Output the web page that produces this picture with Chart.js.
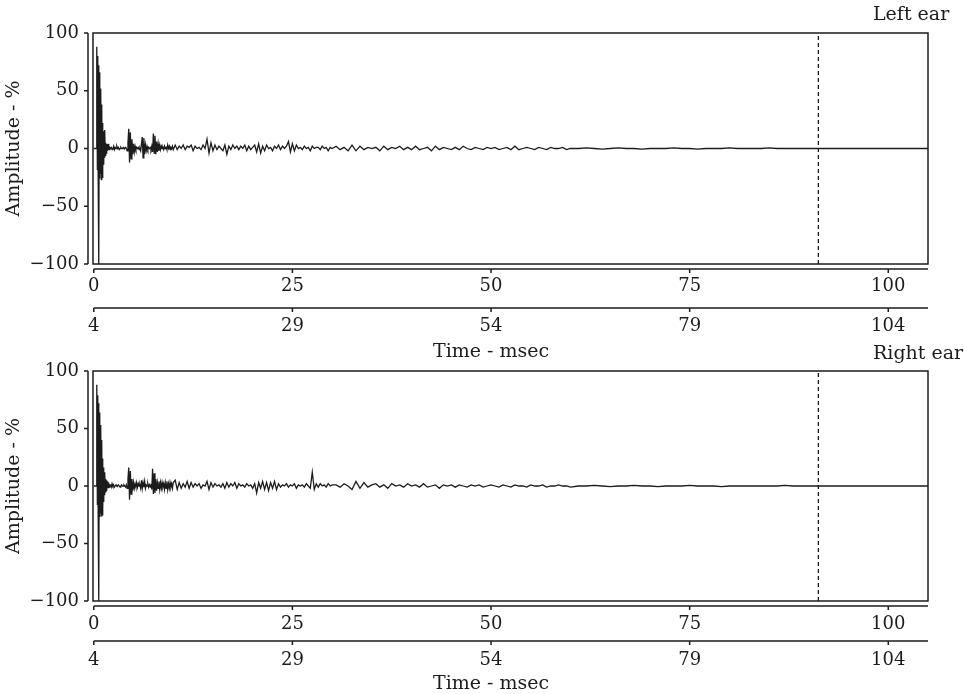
<!DOCTYPE html>
<html>
<head>
<meta charset="utf-8">
<script src="https://cdn.jsdelivr.net/npm/chart.js@4.4.1/dist/chart.umd.min.js"></script>
<style>
  html, body { margin: 0; padding: 0; background: #fff; }
  #wrap { position: relative; width: 964px; height: 694px; overflow: hidden; }
  canvas { position: absolute; left: 0; }
  #leftCanvas { top: 0; }
  #rightCanvas { top: 338px; }
</style>
</head>
<body>
<div id="wrap">
  <canvas id="leftCanvas" width="964" height="370"></canvas>
  <canvas id="rightCanvas" width="964" height="356"></canvas>
</div>
<script>
// sample times (msec)
const timeMs = [
  0, 0.05, 0.1, 0.15, 0.2, 0.25, 0.3, 0.35, 0.4, 0.45,
  0.5, 0.55, 0.6, 0.65, 0.7, 0.75, 0.8, 0.85, 0.9, 0.95,
  1, 1.05, 1.1, 1.15, 1.2, 1.25, 1.3, 1.35, 1.4, 1.45,
  1.5, 1.55, 1.6, 1.65, 1.7, 1.75, 1.8, 1.85, 1.9, 1.95,
  2,
  2.1, 2.2, 2.3, 2.4, 2.5, 2.6, 2.7, 2.8, 2.9, 3,
  3.1, 3.2, 3.3, 3.4, 3.5, 3.6, 3.7, 3.8, 3.9, 4,
  4.1, 4.2, 4.3, 4.4, 4.5, 4.6, 4.7, 4.8, 4.9, 5,
  5.1, 5.2, 5.3, 5.4, 5.5, 5.6, 5.7, 5.8, 5.9, 6,
  6.1, 6.2, 6.3, 6.4, 6.5, 6.6, 6.7, 6.8, 6.9, 7,
  7.1, 7.2, 7.3, 7.4, 7.5, 7.6, 7.7, 7.8, 7.9, 8,
  8.1, 8.2, 8.3, 8.4, 8.5, 8.6, 8.7, 8.8, 8.9, 9,
  9.1, 9.2, 9.3, 9.4, 9.5, 9.6, 9.7, 9.8, 9.9, 10,
  10.25, 10.5, 10.75, 11, 11.25, 11.5, 11.75, 12,
  12.25, 12.5, 12.75, 13, 13.25, 13.5, 13.75, 14,
  14.25, 14.5, 14.75, 15, 15.25, 15.5, 15.75, 16,
  16.25, 16.5, 16.75, 17, 17.25, 17.5, 17.75, 18,
  18.25, 18.5, 18.75, 19, 19.25, 19.5, 19.75, 20,
  20.25, 20.5, 20.75, 21, 21.25, 21.5, 21.75, 22,
  22.25, 22.5, 22.75, 23, 23.25, 23.5, 23.75, 24,
  24.25, 24.5, 24.75, 25, 25.25, 25.5, 25.75, 26,
  26.25, 26.5, 26.75, 27, 27.25, 27.5, 27.75, 28,
  28.25, 28.5, 28.75, 29, 29.25, 29.5, 29.75, 30,
  30.5, 31, 31.5, 32, 32.5, 33, 33.5, 34, 34.5, 35,
  35.5, 36, 36.5, 37, 37.5, 38, 38.5, 39, 39.5, 40,
  40.5, 41, 41.5, 42, 42.5, 43, 43.5, 44, 44.5, 45,
  45.5, 46, 46.5, 47, 47.5, 48, 48.5, 49, 49.5, 50,
  50.5, 51, 51.5, 52, 52.5, 53, 53.5, 54, 54.5, 55,
  55.5, 56, 56.5, 57, 57.5, 58, 58.5, 59, 59.5, 60,
  61, 62, 63, 64, 65, 66, 67, 68, 69, 70,
  71, 72, 73, 74, 75, 76, 77, 78, 79, 80,
  81, 82, 83, 84, 85, 86, 87, 88, 89, 90,
  91, 92, 93, 94, 95, 96, 97, 98, 99, 100,
  101, 102, 103, 104, 105
];

// amplitude in %, left ear
const leftEar = [
  0, 0, 0, 0, 0, 0, 0, 2, 88, -18,
  80, -24, 72, -100, 66, -26, 52, -22, 50, -27,
  38, -25, 22, -18, 15, -14, 12, -8, 16, -6,
  5, -4, 4, -3, 3, -2, 4, -1, 2, -1,
  1,
  0, 1, -1, 0, 2, -1, 1, 0, 2, 0,
  1, -1, 0, 1, 0, 0, 1, 0, 0, 1,
  0, -2, 5, 17, -12, 14, -9, 8, -5, 4,
  -3, 2, -1, 1, 0, 1, -1, 0, -2, 4,
  10, -8, 9, -5, 3, -2, 2, -1, 1, 0,
  1, -1, 2, -3, 13, -4, 11, -5, 6, -3,
  4, -2, 3, -1, 2, 0, 1, -1, 2, 0,
  1, -1, 3, 0, 2, -1, 1, 0, 2, -1,
  3, -1, 2, 0, 3, -1, 2, 1,
  3, -2, 2, 0, 1, -1, 3, 0,
  8, -4, 5, -2, 3, -1, 2, 0,
  -2, 3, -5, 2, -1, 3, 0, 2,
  -1, 2, 0, 3, -2, 2, -1, 1,
  3, -3, 4, -4, 2, -2, 3, 0,
  1, -2, 2, 0, 3, -1, 2, 0,
  2, 6, -3, 4, -2, 3, 0, 1,
  -1, 2, 0, 1, -2, 2, 0, 1,
  1, -1, 2, 0, 1, -2, 1, 0,
  2, -1, 1, -2, 3, -2, 2, -1, 1, 0,
  1, -2, 2, -1, 1, 0, 2, -1, 1, -1,
  2, -1, 0, 1, -2, 2, -1, 1, 0, -1,
  1, -1, 2, 0, -1, 1, 0, -1, 1, 0,
  1, -1, 0, 1, -1, 2, -1, 0, 1, 0,
  -1, 1, 0, -1, 1, 0, 0, 1, -1, 0,
  0, 0.5, 0, -0.5, 0, 0.5, 0, 0, -0.5, 0,
  0, 0, 0.5, 0, 0, -0.5, 0, 0, 0, 0.5,
  0, 0, 0, 0, 0.5, 0, 0, 0, 0, 0,
  0, 0, 0, 0, 0, 0, 0, 0, 0, 0,
  0, 0, 0, 0, 0
];

// amplitude in %, right ear
const rightEar = [
  0, 0, 0, 0, 0, 0, 0, 2, 88, -16,
  79, -24, 72, -100, 64, -27, 53, -24, 48, -26,
  40, -25, 24, -20, 16, -14, 10, -8, 12, -5,
  6, -4, 5, -3, 4, -2, 3, -2, 2, -1,
  1,
  1, -1, 2, 0, 1, -1, 0, 1, 0, 0,
  1, 0, -1, 0, 1, 0, 0, 1, 0, -1,
  1, -2, 6, 16, -12, 13, -7, 6, -4, 3,
  -2, 2, -1, 3, -1, 2, 0, 1, -2, 5,
  -2, 3, -1, 4, -2, 1, 0, 2, -1, 1,
  -1, 2, -3, 15, -7, 11, -6, 6, -4, 3,
  -2, 4, -3, 3, -2, 3, -1, 2, -3, 3,
  -2, 4, -3, 2, -2, 3, -1, 2, -2, 3,
  5, -3, 3, -2, 2, -1, 4, -2,
  3, -1, 2, 0, 2, -2, 1, 0,
  4, -3, 3, -1, 2, 0, 1, -1,
  2, -2, 3, -1, 2, 0, 3, -2,
  2, 0, 1, -1, 2, 0, 1, -2,
  2, -6, 3, -2, 4, -3, 3, -4,
  3, -2, 4, -3, 2, -1, 1, 0,
  2, -1, 1, 0, 2, -2, 1, 0,
  1, -1, 2, 0, -2, 12, -3, 2,
  -1, 2, 0, 1, -1, 2, 0, 1,
  1, -1, 2, 0, -3, 4, -2, 3, -1, 1,
  2, -1, 1, -2, 2, 0, 1, -1, 2, 0,
  1, -1, 2, -1, 0, 1, -2, 1, 0, 1,
  -1, 1, 0, -1, 1, 0, 1, -1, 0, 1,
  0, -1, 1, 0, -1, 1, 0, 0, -1, 1,
  0, 0, 1, -1, 0, 0, 1, 0, 0, -1,
  0, 0, 0.5, 0, -0.5, 0, 0, 0.5, 0, 0,
  -0.5, 0, 0, 0, 0.5, 0, 0, 0, -0.5, 0,
  0, 0, 0, 0, 0, 0, 0.5, 0, 0, 0,
  0, 0, 0, 0, 0, 0, 0, 0, 0, 0,
  0, 0, 0, 0, 0
];

const markerMs = [91.2];               // dashed vertical line
const timeTicks = [0, 25, 50, 75, 100];
const offsetTicks = [4, 29, 54, 79, 104];  // second time axis (shifted by 4 msec)
const ampTicks = [-100, -50, 0, 50, 100];
const earNames = ['Left ear', 'Right ear'];

const FONT = '"DejaVu Serif", serif';
const INK = '#1c1c1c';
const tMin = -0.1, tMax = 105;
const shift = offsetTicks[0] - timeTicks[0];

// per panel geometry (pixels inside each canvas)
const layoutTop = { xh: 39, x2h: 67, xPad: 12, x2Pad: 13, x2Gap: 5, titleY: 357, nameY: 20 };
const layoutBottom = { xh: 35, x2h: 58, xPad: 13, x2Pad: 14, x2Gap: 5, titleY: 351, nameY: 21 };

// box, offset axes, ticks and labels that Chart.js can't place by itself
const frameAxes = {
  id: 'frameAxes',
  afterDraw(chart, args, opts) {
    const { ctx, chartArea: a, scales } = chart;
    const { x, x2, y } = scales;
    ctx.save();
    ctx.strokeStyle = INK;
    ctx.lineWidth = 1.5;
    ctx.strokeRect(a.left, a.top, a.right - a.left, a.bottom - a.top);

    ctx.beginPath();
    const yx = a.left - 5;
    ctx.moveTo(yx, y.getPixelForValue(ampTicks[ampTicks.length - 1]));
    ctx.lineTo(yx, y.getPixelForValue(ampTicks[0]));
    ampTicks.forEach(v => {
      const py = y.getPixelForValue(v);
      ctx.moveTo(yx, py);
      ctx.lineTo(yx - 4, py);
    });

    const rows = [[x, timeTicks, a.bottom + 5], [x2, offsetTicks, x2.top + opts.x2Gap]];
    rows.forEach(([sc, ticks, ly]) => {
      ctx.moveTo(sc.getPixelForValue(ticks[0]), ly);
      ctx.lineTo(a.right, ly);
      ticks.forEach(v => {
        const px = sc.getPixelForValue(v);
        ctx.moveTo(px, ly);
        ctx.lineTo(px, ly + 4);
      });
    });
    ctx.stroke();

    ctx.fillStyle = INK;
    ctx.font = '19px ' + FONT;
    ctx.textBaseline = 'alphabetic';
    ctx.textAlign = 'center';
    const mid = (offsetTicks[0] + offsetTicks[offsetTicks.length - 1]) / 2;
    ctx.fillText('Time - msec', x2.getPixelForValue(mid), opts.titleY);
    ctx.textAlign = 'left';
    ctx.fillText(opts.name, 873, opts.nameY);
    ctx.restore();
  }
};

function buildPanel(canvasId, amps, name, g) {
  const trace = timeMs.map((t, i) => ({ x: t, y: amps[i] }));
  const marker = [
    { x: markerMs[0], y: ampTicks[0] },
    { x: markerMs[0], y: ampTicks[ampTicks.length - 1] }
  ];
  const tickFont = { family: FONT, size: 18 };

  new Chart(document.getElementById(canvasId), {
    type: 'line',
    data: {
      datasets: [
        { data: trace, borderColor: INK, borderWidth: 1.3, pointRadius: 0, tension: 0 },
        { data: marker, borderColor: INK, borderWidth: 1.3, borderDash: [4, 3], pointRadius: 0 }
      ]
    },
    options: {
      responsive: false,
      animation: false,
      devicePixelRatio: 1,
      events: [],
      layout: { padding: { left: 0, right: 36, top: 33, bottom: 0 } },
      plugins: {
        legend: { display: false },
        tooltip: { enabled: false },
        frameAxes: { name: name, x2Gap: g.x2Gap, titleY: g.titleY, nameY: g.nameY }
      },
      scales: {
        x: {
          type: 'linear', position: 'bottom', weight: 0,
          min: tMin, max: tMax,
          grid: { display: false, drawTicks: false },
          border: { display: false },
          ticks: { font: tickFont, color: INK, padding: g.xPad, maxRotation: 0, autoSkip: false,
                   callback: v => String(v) },
          afterBuildTicks: s => { s.ticks = timeTicks.map(v => ({ value: v })); },
          afterFit: s => { s.height = g.xh; }
        },
        x2: {
          type: 'linear', position: 'bottom', weight: 1,
          min: tMin + shift, max: tMax + shift,
          grid: { display: false, drawTicks: false },
          border: { display: false },
          ticks: { font: tickFont, color: INK, padding: g.x2Pad, maxRotation: 0, autoSkip: false,
                   callback: v => String(v) },
          afterBuildTicks: s => { s.ticks = offsetTicks.map(v => ({ value: v })); },
          afterFit: s => { s.height = g.x2h; }
        },
        y: {
          type: 'linear', position: 'left',
          min: ampTicks[0], max: ampTicks[ampTicks.length - 1],
          grid: { display: false, drawTicks: false },
          border: { display: false },
          ticks: { font: tickFont, color: INK, padding: 14,
                   callback: v => String(v).replace('-', '\u2212') },
          afterBuildTicks: s => { s.ticks = ampTicks.map(v => ({ value: v })); },
          afterFit: s => { s.width = 93; },
          title: { display: true, text: 'Amplitude - %', color: INK,
                   font: { family: FONT, size: 19 }, padding: { top: 3, bottom: 0 } }
        }
      }
    },
    plugins: [frameAxes]
  });
}

buildPanel('leftCanvas', leftEar, earNames[0], layoutTop);
buildPanel('rightCanvas', rightEar, earNames[1], layoutBottom);
</script>
</body>
</html>
